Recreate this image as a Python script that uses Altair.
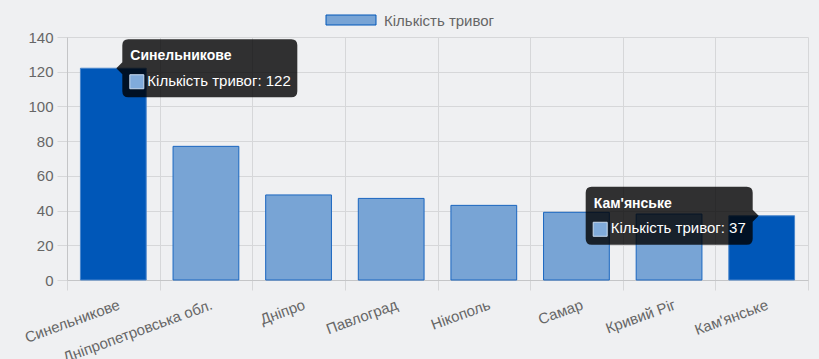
import altair as alt
import pandas as pd

# ---- data ----
categories = ["Синельникове", "Дніпропетровська обл.", "Дніпро", "Павлоград",
              "Нікополь", "Самар", "Кривий Ріг", "Кам'янське"]
alerts = [122, 77, 49, 47, 43, 39, 38, 37]
series_name = "Кількість тривог"
hovered = ["Синельникове", "Кам'янське"]
y_ticks = [0, 20, 40, 60, 80, 100, 120, 140]

df = pd.DataFrame({"city": categories, "alerts": alerts})
df_leg = pd.DataFrame({"label": [series_name]})

FONT = "Liberation Sans"
FS = 15
W, H = 741, 243
BG = "#eff0f2"
BAR_FILL = "#78a4d5"
BAR_DARK = "#0057b8"

x_enc = alt.X(
    "city:N", sort=categories,
    scale=alt.Scale(paddingInner=0, paddingOuter=0),
    axis=alt.Axis(title=None, labelAngle=340, labelAlign="right", labelBaseline="top",
                  labelOffset=3, labelPadding=7, tickBand="extent", grid=True,
                  tickSize=10, labelOverlap=False),
)
y_enc = alt.Y(
    "alerts:Q",
    scale=alt.Scale(domain=[0, 140], nice=False),
    axis=alt.Axis(title=None, values=y_ticks, tickSize=10, labelPadding=4, grid=True,
                  labelOverlap=False, tickCount=8),
)

is_hover = alt.FieldOneOfPredicate(field="city", oneOf=hovered)

bars = alt.Chart(df).mark_bar(width=alt.RelativeBandSize(0.71), strokeWidth=1).encode(
    x=x_enc,
    y=y_enc,
    fill=alt.condition(is_hover, alt.value(BAR_DARK), alt.value(BAR_FILL)),
    stroke=alt.condition(is_hover, alt.value("#4a86cc"), alt.value("#1a66c0")),
)


def box_path(L, R, h=29, r=6, side="left"):
    """Rounded tooltip box with caret, in pixel units relative to the anchor."""
    if side == "left":
        return (f"M{L+r},{-h}H{R-r}Q{R},{-h} {R},{-h+r}V{h-r}Q{R},{h} {R-r},{h}"
                f"H{L+r}Q{L},{h} {L},{h-r}V6L{L-6},0L{L},-6V{-h+r}Q{L},{-h} {L+r},{-h}Z")
    return (f"M{L+r},{-h}H{R-r}Q{R},{-h} {R},{-h+r}V-6L{R+6},0L{R},6V{h-r}Q{R},{h} {R-r},{h}"
            f"H{L+r}Q{L},{h} {L},{h-r}V{-h+r}Q{L},{-h} {L+r},{-h}Z")


def tooltip_layers(city, side, width):
    if side == "left":
        L = 9
    else:
        L = -9 - width
    R = L + width
    base = alt.Chart(df).transform_filter(
        alt.FieldEqualPredicate(field="city", equal=city)
    ).transform_calculate(
        body=f"'{series_name}: ' + datum.alerts"
    )
    enc = dict(x=x_enc, y=y_enc)
    box = base.mark_point(shape=box_path(L, R, side=side), size=4, filled=True,
                          fill="black", fillOpacity=0.8, opacity=1, strokeWidth=0).encode(**enc)
    sq = f"M{L+7.5},6.5H{L+21.5}V20.5H{L+7.5}Z"
    swatch = base.mark_point(shape=sq, size=4, filled=True, fill="#80abdb", opacity=1,
                             stroke="#c9dbf0", strokeWidth=1).encode(**enc)
    title = base.mark_text(align="left", baseline="alphabetic", dx=L + 8, dy=-8,
                           font=FONT, fontSize=14, fontWeight="bold", color="white").encode(
        text="city:N", **enc)
    body = base.mark_text(align="left", baseline="alphabetic", dx=L + 25, dy=17.5,
                          font=FONT, fontSize=FS, color="white").encode(
        text="body:N", **enc)
    return [box, swatch, title, body]


legend_box = alt.Chart(df_leg).mark_rect(fill=BAR_FILL, stroke=BAR_DARK, strokeWidth=1).encode(
    x=alt.value(259), x2=alt.value(309), y=alt.value(-22), y2=alt.value(-12)
)
legend_text = alt.Chart(df_leg).mark_text(align="left", baseline="middle", font=FONT,
                                          fontSize=FS, color="#666666").encode(
    x=alt.value(317), y=alt.value(-16.5), text="label:N"
)

layers = [bars] + tooltip_layers(hovered[0], "left", 175) + tooltip_layers(hovered[1], "right", 167) \
    + [legend_box, legend_text]

chart = alt.layer(*layers).properties(
    width=W, height=H,
    autosize=alt.AutoSizeParams(type="none"),
    padding={"left": 67, "top": 37, "right": 11, "bottom": 79},
    background=BG,
).configure_view(strokeWidth=0).configure_axis(
    labelFont=FONT, labelFontSize=FS, labelColor="#666666",
    gridColor="#d6d7d9", tickColor="#d6d7d9", domainColor="#c4c5c7",
)

chart.save("out.html", embed_options={"renderer": "svg", "actions": False})
